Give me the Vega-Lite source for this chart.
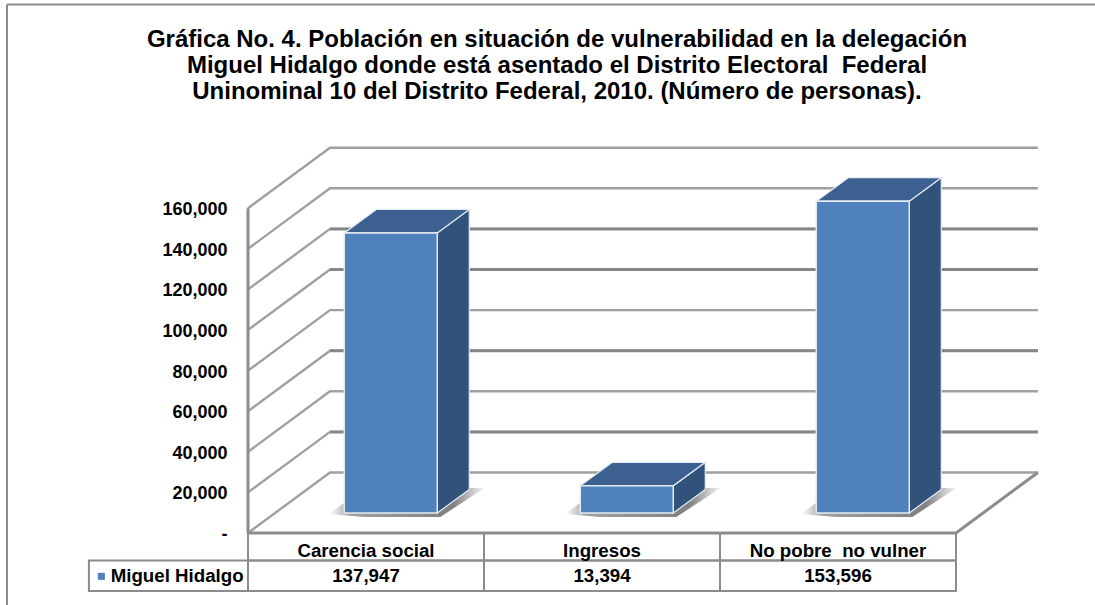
{
"$schema":"https://vega.github.io/schema/vega-lite/v6.json",
"width":708,"height":386,
"autosize":"none",
"padding":{"left":248,"top":147,"right":139,"bottom":72},
"background":"white",
"config":{"font":"Liberation Sans","view":{"stroke":null}},
"title":{"text":["Gráfica No. 4. Población en situación de vulnerabilidad en la delegación","Miguel Hidalgo donde está asentado el Distrito Electoral \u00a0Federal","Uninominal 10 del Distrito Federal, 2010. (Número de personas)."],"anchor":"middle","dx":-45,"offset":-100,"fontSize":24,"fontWeight":"bold","font":"Liberation Sans","lineHeight":26,"color":"#000000"},
"datasets":{
"categorias":[
{"categoria":"Carencia social","serie":"Miguel Hidalgo","orden":0,"valor":137947},
{"categoria":"Ingresos","serie":"Miguel Hidalgo","orden":1,"valor":13394},
{"categoria":"No pobre  no vulner","serie":"Miguel Hidalgo","orden":2,"valor":153596}],
"marcas":[{"valor":0},{"valor":20000},{"valor":40000},{"valor":60000},{"valor":80000},{"valor":100000},{"valor":120000},{"valor":140000},{"valor":160000}]
},
"data":{"name":"categorias"},
"layer":[
{"transform":[{"filter":"datum.orden==0"}],"mark":{"type":"rule","color":"#8c8c8c","strokeWidth":2},"encoding":{"x":{"datum":-1.0212,"type":"quantitative","scale":{"domain":[0,3],"nice":false,"zero":false},"axis":null},"y":{"datum":260345,"type":"quantitative"},"y2":{"datum":-35468}}},
{"transform":[{"filter":"datum.orden==0"}],"mark":{"type":"rule","color":"#8c8c8c","strokeWidth":2},"encoding":{"x":{"datum":-1.0212,"type":"quantitative"},"x2":{"datum":3.589},"y":{"datum":260345,"type":"quantitative"}}},
{"data":{"name":"marcas"},"transform":[
{"calculate":"[0,0.3475,3.347]","as":"px"},
{"calculate":"[datum.valor,datum.valor+29803,datum.valor+29803]","as":"py"},
{"flatten":["px","py"]}],
"mark":{"type":"line","color":"#a0a0a0","strokeWidth":2.4,"clip":false},
"encoding":{"x":{"field":"px","type":"quantitative"},"y":{"field":"py","type":"quantitative","scale":{"domain":[0,190148],"nice":false,"zero":false},"axis":{"title":null,"values":[0,20000,40000,60000,80000,100000,120000,140000,160000],"domain":false,"ticks":false,"grid":false,"labelPadding":21,"labelOffset":1.5,"labelFont":"Liberation Sans","labelFontWeight":"bold","labelFontSize":18,"labelColor":"#000000","labelExpr":"datum.value==0?'-':format(datum.value,',d')"}},"detail":{"field":"valor"}}},
{"data":{"name":"marcas"},"transform":[
{"filter":"datum.valor==120000||datum.valor==100000||datum.valor==60000||datum.valor==20000"},
{"calculate":"[0.3475,3.347]","as":"px"},
{"calculate":"[datum.valor+29803,datum.valor+29803]","as":"py"},
{"flatten":["px","py"]}],
"mark":{"type":"line","color":"#868686","strokeWidth":3,"clip":false},
"encoding":{"x":{"field":"px","type":"quantitative"},"y":{"field":"py","type":"quantitative"},"detail":{"field":"valor"}}},
{"transform":[{"filter":"datum.orden==0"},
{"calculate":"[0,3,3.347]","as":"px"},{"calculate":"[0,0,29803]","as":"py"},{"flatten":["px","py"]}],
"mark":{"type":"line","color":"#8c8c8c","strokeWidth":3,"clip":false},
"encoding":{"x":{"field":"px","type":"quantitative"},"y":{"field":"py","type":"quantitative"}}},
{"transform":[{"filter":"datum.orden==0"}],"mark":{"type":"rule","color":"#8c8c8c","strokeWidth":3},"encoding":{"x":{"datum":0,"type":"quantitative"},"y":{"datum":160000,"type":"quantitative"},"y2":{"datum":0}}},
{"transform":[
{"calculate":"datum.orden+0.408","as":"L"},{"calculate":"datum.orden+0.802","as":"R"},
{"calculate":"[datum.L-0.065,datum.L+0.085,datum.R+0.013,datum.R+0.2]","as":"px"},
{"calculate":"[9360,22168,22168,22168]","as":"yt"},
{"calculate":"[9360,7882,7882,22168]","as":"yb"},
{"flatten":["px","yt","yb"]}],
"mark":{"type":"area","clip":false,"color":{"gradient":"linear","x1":0,"x2":1,"y1":0,"y2":0,"stops":[{"offset":0,"color":"#ffffff"},{"offset":0.14,"color":"#a0a0a0"},{"offset":0.8,"color":"#808080"},{"offset":1,"color":"#f4f4f4"}]}},
"encoding":{"x":{"field":"px","type":"quantitative"},"y":{"field":"yt","type":"quantitative"},"y2":{"field":"yb"},"detail":{"field":"categoria"}}},
{"transform":[
{"calculate":"datum.orden+0.802","as":"R"},
{"calculate":"[datum.R,datum.R+0.1356]","as":"px"},
{"calculate":"[datum.valor+9852,datum.valor+9852+11576]","as":"yt"},
{"calculate":"[9852,9852+11576]","as":"yb"},
{"flatten":["px","yt","yb"]}],
"mark":{"type":"area","color":"#31527b","stroke":"#e4ebf4","strokeWidth":1.2,"clip":false},
"encoding":{"x":{"field":"px","type":"quantitative"},"y":{"field":"yt","type":"quantitative"},"y2":{"field":"yb"},"detail":{"field":"categoria"}}},
{"transform":[
{"calculate":"datum.orden+0.408","as":"L"},{"calculate":"datum.orden+0.802","as":"R"},
{"calculate":"datum.valor+9852","as":"t"},
{"calculate":"[datum.L,datum.L+0.1356,datum.R,datum.R+0.1356]","as":"px"},
{"calculate":"[datum.t,datum.t+11576,datum.t+11576,datum.t+11576]","as":"yt"},
{"calculate":"[datum.t,datum.t,datum.t,datum.t+11576]","as":"yb"},
{"flatten":["px","yt","yb"]}],
"mark":{"type":"area","color":"#3c6090","stroke":"#e4ebf4","strokeWidth":1.2,"clip":false},
"encoding":{"x":{"field":"px","type":"quantitative"},"y":{"field":"yt","type":"quantitative"},"y2":{"field":"yb"},"detail":{"field":"categoria"}}},
{"transform":[
{"calculate":"datum.orden+0.408","as":"L"},{"calculate":"datum.orden+0.802","as":"R"},
{"calculate":"datum.valor+9852","as":"t"},{"calculate":"9852","as":"b"}],
"mark":{"type":"rect","stroke":"#e4ebf4","strokeWidth":1.5,"clip":false},
"encoding":{"x":{"field":"L","type":"quantitative"},"x2":{"field":"R"},"y":{"field":"t","type":"quantitative"},"y2":{"field":"b"},
"color":{"field":"serie","type":"nominal","scale":{"range":["#4f81bd"]},"legend":{"orient":"none","legendX":-156,"legendY":420,"title":null,"symbolType":"square","symbolSize":50,"labelFont":"Liberation Sans","labelFontWeight":"bold","labelFontSize":18.7,"labelColor":"#000000","labelOffset":0,"symbolStrokeWidth":0}}}},
{"transform":[{"calculate":"datum.orden+1","as":"fin"}],
"mark":{"type":"rect","fill":null,"stroke":"#8c8c8c","strokeWidth":2,"clip":false},
"encoding":{"x":{"field":"orden","type":"quantitative"},"x2":{"field":"fin"},"y":{"datum":0,"type":"quantitative"},"y2":{"datum":-13547}}},
{"transform":[{"calculate":"datum.orden+1","as":"fin"}],
"mark":{"type":"rect","fill":null,"stroke":"#8c8c8c","strokeWidth":2,"clip":false},
"encoding":{"x":{"field":"orden","type":"quantitative"},"x2":{"field":"fin"},"y":{"datum":-13547,"type":"quantitative"},"y2":{"datum":-28571}}},
{"transform":[{"filter":"datum.orden==0"}],
"mark":{"type":"rect","fill":null,"stroke":"#8c8c8c","strokeWidth":2,"clip":false},
"encoding":{"x":{"datum":-0.674,"type":"quantitative"},"x2":{"datum":0},"y":{"datum":-13547,"type":"quantitative"},"y2":{"datum":-28571}}},
{"transform":[{"calculate":"datum.orden+0.5","as":"centro"},{"calculate":"replace(datum.categoria,'  ',' \u00a0')","as":"rotulo"}],
"mark":{"type":"text","font":"Liberation Sans","fontWeight":"bold","fontSize":18.7,"color":"#000000","baseline":"middle","clip":false,"dy":18},
"encoding":{"x":{"field":"centro","type":"quantitative"},"y":{"datum":0,"type":"quantitative"},"text":{"field":"rotulo"}}},
{"transform":[{"calculate":"datum.orden+0.5","as":"centro"}],
"mark":{"type":"text","font":"Liberation Sans","fontWeight":"bold","fontSize":18.7,"color":"#000000","baseline":"middle","clip":false,"dy":43},
"encoding":{"x":{"field":"centro","type":"quantitative"},"y":{"datum":0,"type":"quantitative"},"text":{"field":"valor","type":"quantitative","format":",d"}}}
],
"resolve":{"scale":{"color":"independent"}}
}
